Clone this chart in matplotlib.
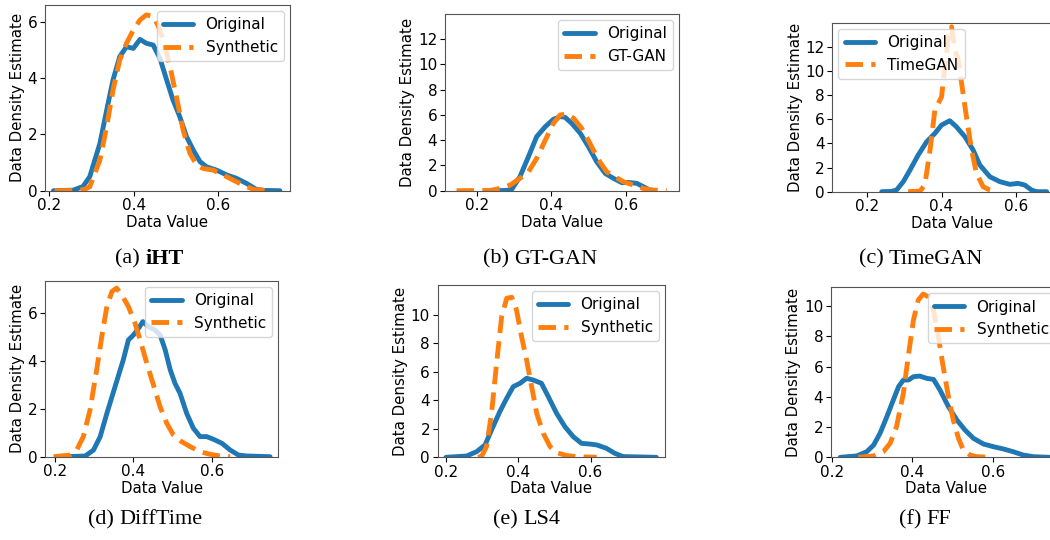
import matplotlib
matplotlib.use("Agg")
import matplotlib.pyplot as plt

# ---------------- data ----------------
# (a) iHT
a_orig_x = [0.21, 0.257, 0.28, 0.296, 0.32, 0.336, 0.351, 0.367, 0.383, 0.399, 0.415, 0.43, 0.446,
            0.462, 0.478, 0.493, 0.509, 0.525, 0.541, 0.557, 0.572, 0.596, 0.62, 0.643, 0.667, 0.69, 0.71, 0.746]
a_orig_y = [0.0, 0.02, 0.15, 0.5, 1.68, 2.86, 3.93, 4.76, 5.11, 5.05, 5.37, 5.23, 5.17,
            4.70, 3.93, 3.22, 2.63, 1.92, 1.44, 1.03, 0.85, 0.73, 0.56, 0.44, 0.26, 0.05, 0.01, 0.0]
a_syn_x = [0.213, 0.27, 0.284, 0.296, 0.32, 0.336, 0.351, 0.367, 0.383, 0.399, 0.415, 0.43, 0.446,
           0.458, 0.47, 0.486, 0.501, 0.517, 0.533, 0.549, 0.564, 0.588, 0.612, 0.635, 0.659, 0.683, 0.714]
a_syn_y = [0.0, 0.01, 0.05, 0.14, 1.09, 2.27, 3.57, 4.64, 5.23, 5.70, 6.06, 6.24, 6.18,
           5.85, 5.35, 4.40, 3.34, 2.15, 1.33, 0.91, 0.79, 0.73, 0.56, 0.38, 0.20, 0.05, 0.0]

# (b) GT-GAN
b_orig_x = [0.245, 0.28, 0.294, 0.316, 0.339, 0.361, 0.384, 0.406, 0.424, 0.437, 0.455, 0.478, 0.5,
            0.522, 0.545, 0.567, 0.59, 0.607, 0.63, 0.647, 0.665, 0.674]
b_orig_y = [0.0, 0.02, 0.1, 1.1, 2.7, 4.28, 5.07, 5.66, 5.87, 5.82, 5.34, 4.55, 3.49,
            2.3, 1.37, 0.98, 0.63, 0.66, 0.58, 0.32, 0.05, 0.0]
b_syn_x = [0.146, 0.236, 0.263, 0.29, 0.316, 0.339, 0.361, 0.384, 0.406, 0.424, 0.442, 0.46, 0.482,
           0.504, 0.527, 0.549, 0.571, 0.594, 0.62, 0.647, 0.674, 0.71]
b_syn_y = [0.0, 0.02, 0.18, 0.45, 0.98, 1.5, 2.56, 4.0, 5.34, 6.0, 6.08, 5.74, 4.94,
           3.75, 2.43, 1.5, 1.11, 0.71, 0.45, 0.18, 0.05, 0.0]

# (c) TimeGAN
c_orig_x = [0.239, 0.265, 0.279, 0.297, 0.315, 0.337, 0.36, 0.382, 0.4, 0.422, 0.44, 0.463, 0.485,
            0.503, 0.53, 0.557, 0.584, 0.606, 0.624, 0.642, 0.656, 0.683]
c_orig_y = [0.0, 0.02, 0.14, 0.83, 1.79, 3.03, 4.14, 4.83, 5.52, 5.88, 5.38, 4.55, 3.45,
            2.21, 1.24, 0.83, 0.61, 0.69, 0.55, 0.14, 0.0, 0.0]
c_syn_x = [0.31, 0.342, 0.355, 0.369, 0.382, 0.391, 0.4, 0.409, 0.418, 0.427, 0.436, 0.445, 0.454,
           0.467, 0.481, 0.494, 0.512, 0.53, 0.548]
c_syn_y = [0.0, 0.05, 0.55, 3.45, 6.76, 7.31, 7.86, 10.34, 12.83, 13.66, 11.72, 10.9, 8.97,
           6.21, 3.45, 1.52, 0.41, 0.14, 0.0]

# (d) DiffTime
d_orig_x = [0.23, 0.277, 0.298, 0.315, 0.332, 0.353, 0.374, 0.387, 0.4, 0.413, 0.424, 0.438, 0.455,
            0.468, 0.481, 0.494, 0.506, 0.519, 0.536, 0.553, 0.57, 0.587, 0.604, 0.626, 0.647, 0.668,
            0.689, 0.749]
d_orig_y = [0.0, 0.03, 0.28, 0.84, 1.81, 2.93, 4.05, 4.88, 5.09, 5.37, 5.65, 5.44, 5.3,
            5.09, 4.47, 3.63, 3.07, 2.65, 1.81, 1.19, 0.84, 0.84, 0.73, 0.56, 0.28, 0.07,
            0.03, 0.0]
d_syn_x = [0.196, 0.238, 0.255, 0.272, 0.289, 0.306, 0.319, 0.332, 0.345, 0.357, 0.37, 0.387, 0.404,
           0.417, 0.434, 0.451, 0.468, 0.485, 0.502, 0.523, 0.545, 0.57, 0.596, 0.621, 0.647]
d_syn_y = [0.0, 0.07, 0.28, 0.84, 1.95, 3.63, 5.02, 6.28, 6.91, 7.05, 6.77, 6.28, 5.58,
           4.88, 3.91, 3.0, 2.09, 1.4, 0.91, 0.63, 0.42, 0.21, 0.1, 0.03, 0.0]

# (e) LS4
e_orig_x = [0.2, 0.257, 0.285, 0.308, 0.326, 0.349, 0.368, 0.386, 0.405, 0.423, 0.441, 0.464, 0.483,
            0.506, 0.529, 0.552, 0.575, 0.594, 0.617, 0.644, 0.667, 0.69, 0.782]
e_orig_y = [0.0, 0.09, 0.4, 0.87, 1.92, 3.21, 4.15, 4.96, 5.2, 5.55, 5.43, 5.2, 4.26,
            3.09, 2.15, 1.45, 0.98, 0.94, 0.87, 0.63, 0.28, 0.05, 0.0]
e_syn_x = [0.289, 0.299, 0.312, 0.326, 0.34, 0.354, 0.368, 0.382, 0.395, 0.409, 0.423, 0.437, 0.451,
           0.469, 0.488, 0.506, 0.534, 0.561, 0.617]
e_syn_y = [0.0, 0.09, 0.75, 3.09, 6.6, 9.88, 11.17, 11.24, 10.35, 8.48, 6.84, 4.96, 3.09,
           1.69, 0.75, 0.33, 0.12, 0.05, 0.0]

# (f) FF
f_orig_x = [0.221, 0.262, 0.287, 0.304, 0.32, 0.337, 0.353, 0.366, 0.378, 0.391, 0.403, 0.419, 0.436,
            0.453, 0.469, 0.49, 0.511, 0.531, 0.552, 0.577, 0.602, 0.627, 0.651, 0.676, 0.701, 0.742]
f_orig_y = [0.0, 0.09, 0.37, 0.81, 1.59, 2.69, 3.79, 4.67, 5.11, 5.11, 5.33, 5.37, 5.22,
            5.15, 4.45, 3.35, 2.47, 1.81, 1.26, 0.88, 0.7, 0.55, 0.37, 0.15, 0.04, 0.0]
f_syn_x = [0.266, 0.304, 0.328, 0.345, 0.361, 0.378, 0.39, 0.403, 0.415, 0.427, 0.44, 0.453, 0.465,
           0.477, 0.49, 0.502, 0.515, 0.527, 0.544, 0.56, 0.602]
f_syn_y = [0.0, 0.09, 0.37, 0.92, 2.03, 4.23, 6.65, 9.07, 10.4, 10.79, 10.62, 9.74, 7.97,
           5.99, 4.01, 2.47, 1.26, 0.48, 0.15, 0.04, 0.0]

syn_labels = ["Synthetic", "GT-GAN", "TimeGAN", "Synthetic", "Synthetic", "Synthetic"]
captions = [("(a) ", "iHT"), ("(b) ", "GT-GAN"), ("(c) ", "TimeGAN"),
            ("(d) ", "DiffTime"), ("(e) ", "LS4"), ("(f) ", "FF")]
yticks = [[0, 2, 4, 6], [0, 2, 4, 6, 8, 10, 12], [0, 2, 4, 6, 8, 10, 12],
          [0, 2, 4, 6], [0, 2, 4, 6, 8, 10], [0, 2, 4, 6, 8, 10]]

series = [
    (a_orig_x, a_orig_y, a_syn_x, a_syn_y),
    (b_orig_x, b_orig_y, b_syn_x, b_syn_y),
    (c_orig_x, c_orig_y, c_syn_x, c_syn_y),
    (d_orig_x, d_orig_y, d_syn_x, d_syn_y),
    (e_orig_x, e_orig_y, e_syn_x, e_syn_y),
    (f_orig_x, f_orig_y, f_syn_x, f_syn_y),
]

W, H = 1050, 540
# left, right, top, bottom in px; xlim; ylim; legend loc
boxes = [
    (45, 290, 5, 190.7, (0.19, 0.77), (0, 6.59), "upper right"),
    (445, 679, 14, 190.7, (0.115, 0.743), (0, 14.0), "upper right"),
    (832.3, 1071.6, 22.7, 191.7, (0.106, 0.75), (0, 14.0), "upper left"),
    (45, 278.3, 280.7, 456.7, (0.174, 0.77), (0, 7.36), "upper right"),
    (437.7, 665, 285, 457.3, (0.177, 0.806), (0, 12.1), "upper right"),
    (831, 1061, 287.3, 457.3, (0.198, 0.77), (0, 11.24), "upper right"),
]
cap_pos = [(149, 259), (540, 259), (921, 259), (145, 520), (527, 520), (925, 520)]

fig = plt.figure(figsize=(W / 100, H / 100), dpi=100)

for i, (ox, oy, sx, sy) in enumerate(series):
    l, r, t, b, xl, yl, loc = boxes[i]
    ax = fig.add_axes([l / W, 1 - b / H, (r - l) / W, (b - t) / H])
    ax.plot(ox, oy, color="#1f77b4", lw=3.5, label="Original",
            solid_joinstyle="round", solid_capstyle="round")
    ax.plot(sx, sy, color="#ff7f0e", lw=3.5, ls=(0, (3.6, 1.7)), label=syn_labels[i],
            dash_joinstyle="round")
    ax.set_xlim(xl)
    ax.set_ylim(yl)
    ax.set_xticks([0.2, 0.4, 0.6])
    ax.set_yticks(yticks[i])
    ax.tick_params(labelsize=11, length=3.5, pad=2)
    ax.set_xlabel("Data Value", fontsize=10.8, labelpad=1)
    ax.set_ylabel("Data Density Estimate", fontsize=10.8, labelpad=2)
    for s in ax.spines.values():
        s.set_color("#555555")
        s.set_linewidth(0.8)
    ax.legend(loc=loc, fontsize=11, borderaxespad=0.4)

    # caption below each panel, prefix in regular, name bold only for (a)
    cx, cy = cap_pos[i]
    pre, name = captions[i]
    weight = "bold" if i == 0 else "normal"
    t1 = fig.text(0, 1 - cy / H, pre, fontsize=16, family="Liberation Serif",
                  ha="right", va="center")
    t_name = fig.text(0, 1 - cy / H, name, fontsize=16, family="Liberation Serif",
                      fontweight=weight, ha="left", va="center")
    fig.canvas.draw()
    w_pre = t1.get_window_extent().width
    w_name = t_name.get_window_extent().width
    start = cx - (w_pre + w_name) / 2
    t1.set_x((start + w_pre) / W)
    t_name.set_x((start + w_pre) / W)

fig.savefig("out.png", dpi=100)
